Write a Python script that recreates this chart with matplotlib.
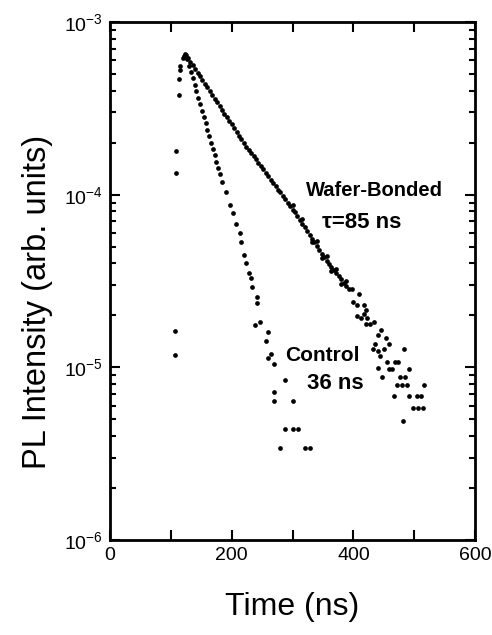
import matplotlib.pyplot as plt
from matplotlib.ticker import MultipleLocator, LogLocator, NullFormatter, FuncFormatter

plt.rcParams['font.family'] = ['Liberation Sans', 'DejaVu Sans']
plt.rcParams['mathtext.fontset'] = 'custom'
plt.rcParams['mathtext.rm'] = 'Liberation Sans'
plt.rcParams['mathtext.it'] = 'Liberation Sans'

# rising edge of the laser pulse (shared by both samples)
rise_t = [107, 107, 109, 109, 114, 114, 115, 115, 120, 122]
rise_i = [1.63e-5, 1.18e-5, 1.80e-4, 1.34e-4, 4.7e-4, 3.8e-4, 5.6e-4, 5.3e-4, 6.2e-4, 6.35e-4]

# wafer-bonded sample, tau = 85 ns
wb_t = [124, 128, 132, 136, 140, 144, 148, 152, 156, 160, 164, 168, 172, 176,
        180, 184, 188, 192, 196, 200, 204, 208, 212, 216, 220, 224, 228, 232,
        236, 240, 244, 248, 252, 256, 260, 264, 268, 272, 276, 280, 284, 288,
        292, 296, 300, 304, 308, 312, 316, 320, 324, 328, 332, 336, 340, 344,
        348, 352, 356, 360, 364, 368, 372, 376, 380, 384, 388, 392,
        300, 316, 332, 340, 348, 356, 364, 372, 380, 388,
        397, 410, 400, 406, 417, 420, 417, 406, 412, 423, 420, 428, 434, 445,
        440, 454, 459, 435, 432, 440, 451, 484, 443, 455, 468, 474, 441, 458,
        463, 491, 447, 477, 485, 472, 480, 488, 516, 467, 492, 505, 511, 498,
        506, 514, 482]
wb_i = [6.5e-4, 6.21e-4, 5.90e-4, 5.62e-4, 5.35e-4, 5.09e-4, 4.84e-4, 4.61e-4,
        4.39e-4, 4.18e-4, 3.97e-4, 3.78e-4, 3.60e-4, 3.43e-4, 3.26e-4, 3.10e-4,
        2.95e-4, 2.81e-4, 2.67e-4, 2.55e-4, 2.42e-4, 2.31e-4, 2.19e-4, 2.09e-4,
        1.99e-4, 1.90e-4, 1.82e-4, 1.74e-4, 1.67e-4, 1.60e-4, 1.53e-4, 1.46e-4,
        1.40e-4, 1.34e-4, 1.28e-4, 1.22e-4, 1.17e-4, 1.12e-4, 1.07e-4, 1.03e-4,
        9.8e-5, 9.4e-5, 9.0e-5, 8.6e-5, 8.2e-5, 7.9e-5, 7.5e-5, 7.1e-5, 6.8e-5,
        6.5e-5, 6.15e-5, 5.85e-5, 5.57e-5, 5.30e-5, 5.04e-5, 4.80e-5, 4.56e-5,
        4.34e-5, 4.13e-5, 3.96e-5, 3.80e-5, 3.65e-5, 3.50e-5, 3.36e-5, 3.23e-5,
        3.10e-5, 2.97e-5, 2.85e-5,
        8.7e-5, 7.25e-5, 5.3e-5, 5.4e-5, 4.3e-5, 4.4e-5, 3.6e-5, 3.7e-5, 3.05e-5, 3.15e-5,
        2.86e-5, 2.65e-5, 2.39e-5, 2.29e-5, 2.29e-5, 2.14e-5, 2.05e-5, 1.98e-5,
        1.92e-5, 1.92e-5, 1.79e-5, 1.79e-5, 1.83e-5, 1.65e-5, 1.53e-5, 1.47e-5,
        1.37e-5, 1.37e-5, 1.28e-5, 1.25e-5, 1.28e-5, 1.28e-5, 1.17e-5, 1.07e-5,
        1.07e-5, 1.07e-5, 9.96e-6, 9.83e-6, 9.83e-6, 9.83e-6, 8.79e-6, 8.79e-6,
        8.79e-6, 7.86e-6, 7.86e-6, 7.86e-6, 7.86e-6, 6.82e-6, 6.82e-6, 6.82e-6,
        6.82e-6, 5.84e-6, 5.84e-6, 5.84e-6, 4.86e-6]

# control sample, tau = 36 ns
ctl_t = [125, 127, 130, 133, 136, 139, 142, 145, 148, 151, 154, 157, 160, 163,
         166, 169, 172, 175, 178, 181, 184, 190, 197, 202, 207, 214, 216, 220,
         224, 229, 232, 233, 241, 242, 239, 247, 259, 256, 265, 260, 270, 287,
         270, 270, 300, 288, 301, 309, 280, 320, 328]
ctl_i = [6.45e-4, 6.08e-4, 5.58e-4, 5.13e-4, 4.71e-4, 4.32e-4, 3.97e-4, 3.65e-4,
         3.34e-4, 3.07e-4, 2.82e-4, 2.59e-4, 2.38e-4, 2.18e-4, 2.00e-4, 1.84e-4,
         1.69e-4, 1.55e-4, 1.42e-4, 1.31e-4, 1.18e-4, 1.03e-4, 8.7e-5, 7.8e-5,
         6.8e-5, 5.98e-5, 5.3e-5, 4.46e-5, 4.0e-5, 3.5e-5, 3.28e-5, 2.91e-5,
         2.55e-5, 2.35e-5, 1.75e-5, 1.82e-5, 1.6e-5, 1.43e-5, 1.2e-5, 1.14e-5,
         1.05e-5, 8.4e-6, 7.2e-6, 6.4e-6, 6.4e-6, 4.4e-6, 4.4e-6, 4.4e-6,
         3.43e-6, 3.43e-6, 3.43e-6]

fig = plt.figure(figsize=(4.92, 6.35), dpi=100)
ax = fig.add_axes([0.2236, 0.1496, 0.742, 0.8157])

ax.plot(rise_t, rise_i, 'o', color='black', ms=3.4, mew=0)
ax.plot(wb_t, wb_i, 'o', color='black', ms=3.4, mew=0)
ax.plot(ctl_t, ctl_i, 'o', color='black', ms=3.4, mew=0)

ax.set_yscale('log')
ax.set_xlim(0, 600)
ax.set_ylim(1e-6, 1e-3)

ax.xaxis.set_major_locator(MultipleLocator(100))
ax.xaxis.set_major_formatter(FuncFormatter(lambda v, p: f'{v:.0f}' if v % 200 == 0 else ''))
ax.yaxis.set_major_locator(LogLocator(base=10, numticks=10))
ax.yaxis.set_minor_locator(LogLocator(base=10, subs=range(2, 10), numticks=10))
ax.yaxis.set_minor_formatter(NullFormatter())

ax.tick_params(which='both', direction='in', top=True, right=True, labelsize=14, width=1.5)
ax.tick_params(which='major', length=7, pad=5)
ax.tick_params(which='minor', length=4)
for s in ax.spines.values():
    s.set_linewidth(2)

ax.set_xlabel('Time (ns)', fontsize=23, labelpad=20)
ax.set_ylabel('PL Intensity (arb. units)', fontsize=23.5)
ax.yaxis.set_label_coords(-0.155, 0.46)

ax.text(435, 1.06e-4, 'Wafer-Bonded', fontsize=14.5, fontweight='bold', ha='center', va='center')
ax.text(413, 6.9e-5, 'τ=85 ns', fontsize=16, fontweight='bold', ha='center', va='center')
ax.text(349, 1.17e-5, 'Control', fontsize=15, fontweight='bold', ha='center', va='center')
ax.text(370, 8.1e-6, '36 ns', fontsize=16, fontweight='bold', ha='center', va='center')

fig.savefig('out.png', dpi=100)
